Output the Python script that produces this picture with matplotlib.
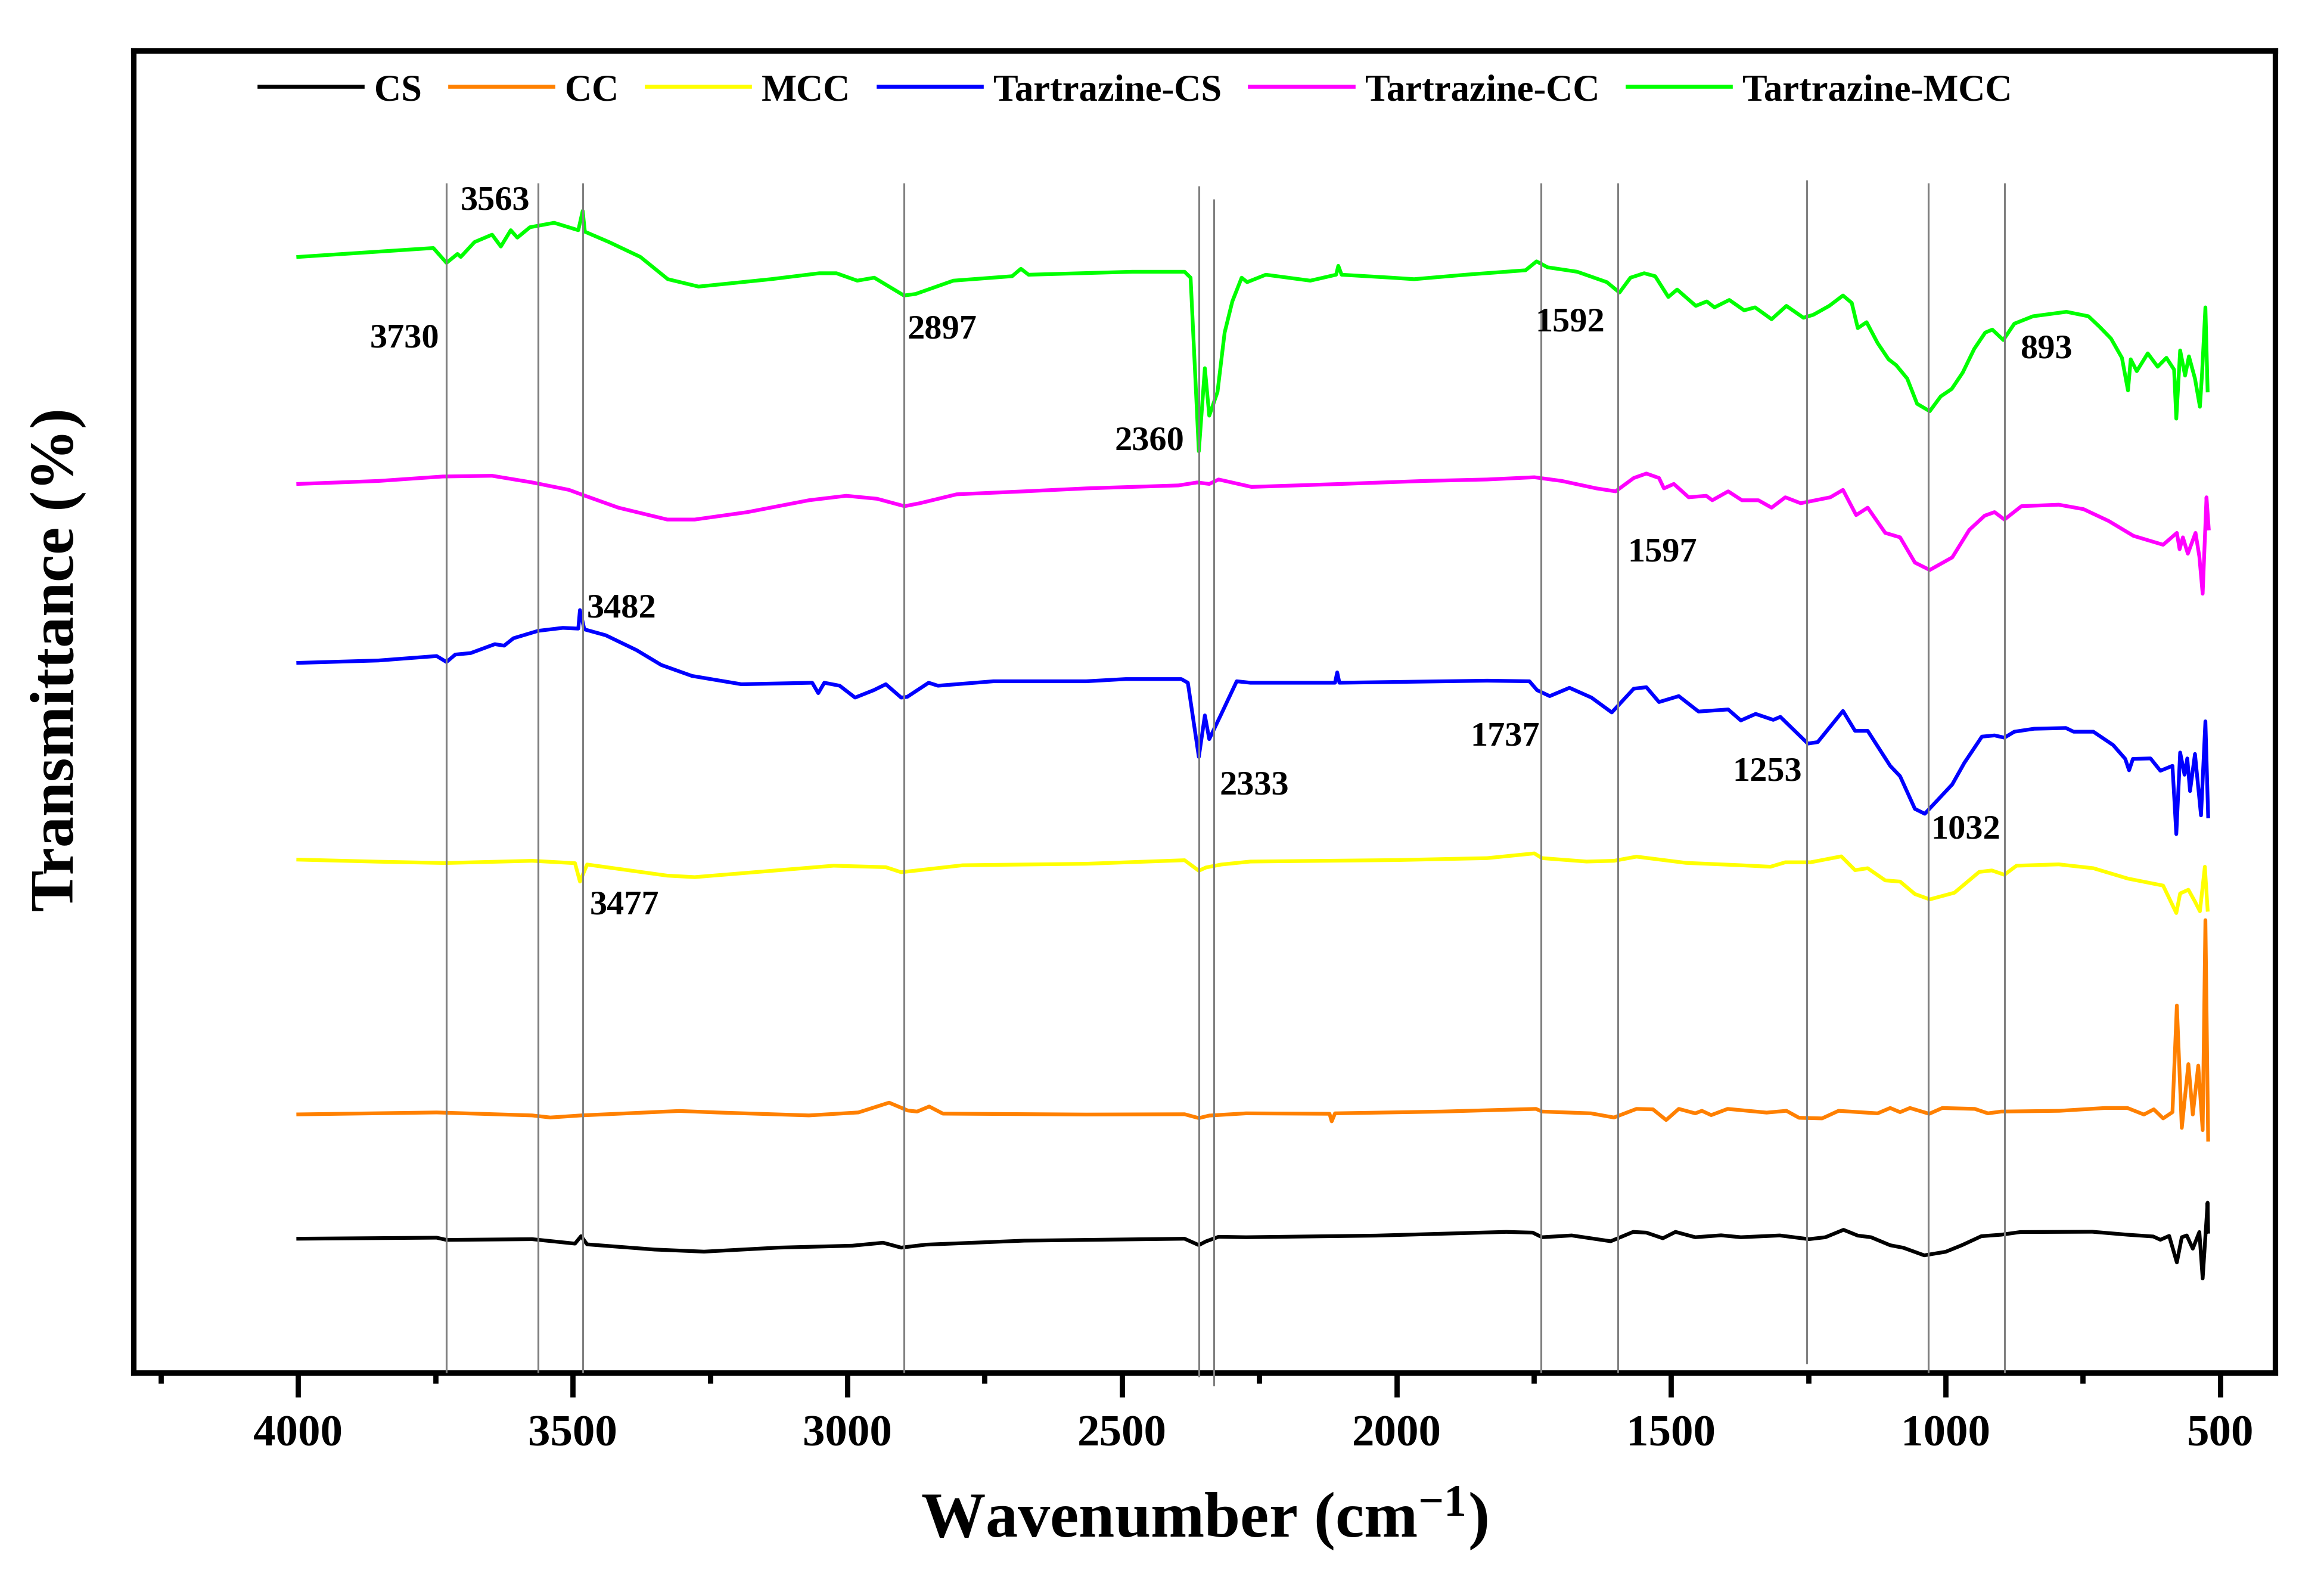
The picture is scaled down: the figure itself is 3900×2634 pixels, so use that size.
import matplotlib
matplotlib.use("Agg")
import matplotlib.pyplot as plt

plt.rcParams['font.family'] = ['Liberation Serif', 'DejaVu Serif']
plt.rcParams['font.weight'] = 'bold'
plt.rcParams['mathtext.fontset'] = 'custom'
plt.rcParams['mathtext.rm'] = 'Liberation Serif:bold'
plt.rcParams['mathtext.it'] = 'Liberation Serif:bold'
plt.rcParams['mathtext.bf'] = 'Liberation Serif:bold'

# ---------------- data (wavenumber, transmittance, arbitrary offset units) -------------
series_labels = ["CS", "CC", "MCC", "Tartrazine-CS", "Tartrazine-CC", "Tartrazine-MCC"]
series_colors = ["#000000", "#FF8000", "#FFFF00", "#0000FF", "#FF00FF", "#00FF00"]

cs_w = [4000, 3748, 3730, 3574, 3496, 3485, 3474, 3351, 3261, 3126, 2991, 2935, 2902, 2857,
        2678, 2386, 2360, 2347, 2324, 2274, 2037, 1800, 1752, 1735, 1681, 1610, 1569, 1545,
        1515, 1492, 1456, 1409, 1373, 1302, 1249, 1219, 1186, 1160, 1136, 1101, 1077, 1039,
        1000, 970, 935, 899, 864, 733, 669, 622, 609, 593, 579, 570, 561, 550, 538, 532, 523, 522]
cs_t = [90.3, 91, 89.5, 90, 87, 92, 86.5, 83, 81.6, 84.3, 85.6, 87.6, 84.3, 86.3,
        89, 90.3, 86, 88.5, 91.6, 91.3, 92.4, 94.9, 94.4, 91.3, 92.5, 88.6, 94.9, 94.4,
        90.6, 94.9, 91.3, 92.6, 91.3, 92.5, 90, 91.3, 96.3, 92.4, 91.3, 85.9, 84.2, 79.1,
        81.5, 86, 92, 93, 94.8, 95, 93, 91.8, 89.6, 92.2, 74.3, 91.3, 92.5, 83.6, 94.8, 63.5, 114.6, 95]

cc_w = [4000, 3748, 3574, 3541, 3485, 3306, 3238, 3070, 2980, 2924, 2890, 2873, 2851, 2826,
        2565, 2386, 2360, 2341, 2274, 2122, 2118, 2112, 1918, 1746, 1735, 1646, 1604, 1563,
        1533, 1509, 1486, 1456, 1444, 1427, 1397, 1326, 1290, 1267, 1225, 1195, 1124, 1101,
        1083, 1065, 1030, 1006, 947, 923, 899, 793, 710, 669, 639, 621, 604, 587, 579, 570,
        558, 550, 540, 532, 527, 522]
cc_t = [174.1, 175.4, 173.4, 172, 173.4, 176.4, 175.4, 173.4, 175.4, 182, 176.7, 176, 179.4, 174.6,
        174, 174.2, 171.6, 173.3, 174.8, 174.5, 169.4, 174.8, 176, 177.8, 176, 174.8, 172, 177.8,
        177.5, 170.3, 177.8, 174.8, 176.5, 173.6, 177.8, 175.3, 176.5, 171.8, 171.4, 176.5, 174.8, 178.4,
        175.6, 178.4, 174.5, 178.4, 177.8, 174.8, 176, 176.5, 178.4, 178.4, 174, 177.5, 171.4, 175.6, 247.5, 165,
        208, 174, 207, 163.5, 305, 157]

mcc_w = [4000, 3854, 3733, 3574, 3496, 3487, 3474, 3328, 3278, 3025, 2930, 2902, 2790, 2565,
         2386, 2360, 2347, 2319, 2266, 2000, 1835, 1749, 1735, 1654, 1604, 1563, 1473, 1373,
         1319, 1292, 1246, 1190, 1165, 1142, 1110, 1083, 1056, 1029, 984, 939, 916, 893, 871,
         794, 731, 668, 604, 580, 573, 558, 546, 537, 528, 523]
mcc_t = [345.8, 344.4, 343.5, 345, 343.4, 331, 342.5, 335, 334, 341.7, 340.7, 337.3, 342, 343,
         345.4, 338.3, 340.5, 342.5, 344.5, 345.5, 346.8, 350, 346.8, 344.5, 345, 347.8, 343.6, 342,
         341, 344, 344, 348, 338.7, 340, 331.8, 331, 322.6, 319, 323.5, 337.5, 338.5, 335.6, 341.7,
         342.6, 340, 333, 328.3, 309.8, 323, 325.5, 317.5, 311, 341, 312]

tcs_w = [4000, 3854, 3748, 3730, 3714, 3686, 3642, 3625, 3608, 3563, 3518, 3490, 3487, 3479,
         3440, 3384, 3339, 3283, 3193, 3064, 3053, 3042, 3014, 2986, 2952, 2930, 2902, 2891,
         2852, 2835, 2734, 2565, 2493, 2392, 2380, 2360, 2349, 2341, 2319, 2291, 2266, 2112,
         2108, 2104, 1835, 1758, 1744, 1721, 1685, 1645, 1608, 1568, 1545, 1522, 1486, 1450,
         1396, 1373, 1346, 1314, 1301, 1251, 1233, 1187, 1165, 1142, 1101, 1083, 1056, 1038,
         988, 966, 934, 911, 893, 875, 839, 781, 767, 731, 695, 673, 666, 659, 627, 609, 587,
         580, 573, 565, 560, 555, 546, 535, 527, 522]
tcs_t = [478.4, 480, 483, 479, 484, 485, 491, 490, 495, 500, 502, 501.5, 514, 501,
         497, 487, 477, 469.6, 464, 465, 458, 465, 463, 455, 460, 464, 455, 455.5,
         465, 463, 466, 466, 467.5, 467.5, 465, 415, 443, 427, 444, 466, 465, 465,
         472, 465, 466.4, 466, 460, 456, 461.6, 455, 445, 461, 462, 452, 456, 445.6,
         447, 439.6, 444, 440, 442, 424, 425, 446, 432.6, 432.6, 409, 402, 380, 376.7,
         396.5, 411, 428.7, 429.5, 428, 432, 434, 434.5, 432, 432, 423, 413.7, 406, 413.7, 414, 405.7, 409,
         363, 418, 403, 414, 392, 417, 375.6, 439, 375]

tcc_w = [4000, 3854, 3737, 3647, 3574, 3507, 3485, 3417, 3328, 3278, 3182, 3070, 3002, 2946,
         2896, 2868, 2801, 2678, 2565, 2397, 2363, 2341, 2324, 2264, 2100, 1950, 1835, 1749,
         1699, 1636, 1601, 1568, 1545, 1522, 1513, 1495, 1468, 1436, 1425, 1396, 1371, 1341,
         1317, 1292, 1264, 1210, 1187, 1163, 1142, 1110, 1083, 1056, 1029, 988, 957, 929, 911,
         893, 862, 794, 749, 703, 658, 604, 579, 574, 568, 559, 545, 538, 532, 525, 521]
tcc_t = [599, 601, 604, 604.5, 600, 595, 592, 583, 575, 575, 580, 588, 591, 589,
         584, 586, 592, 594, 596, 598, 600, 599, 602, 597, 599, 601, 602, 603.5,
         601, 596, 594, 603, 606, 603, 596, 599, 590, 591, 588, 594, 588, 588,
         583, 590, 586, 590, 595, 578, 583, 566, 563, 546, 541, 549.5, 568, 577.6, 580,
         575, 584, 585, 582, 574, 564, 558, 566, 555, 563, 552, 566, 550, 525, 590, 569]

tmcc_w = [4000, 3754, 3730, 3710, 3704, 3679, 3647, 3631, 3613, 3601, 3578, 3534, 3490, 3482,
          3478, 3434, 3377, 3327, 3271, 3139, 3051, 3020, 2982, 2951, 2897, 2876, 2807, 2700,
          2684, 2670, 2481, 2386, 2375, 2360, 2349, 2341, 2326, 2313, 2299, 2282, 2272, 2238,
          2157, 2110, 2106, 2100, 2009, 1968, 1874, 1765, 1745, 1725, 1671, 1617, 1594, 1574,
          1549, 1529, 1505, 1489, 1455, 1435, 1421, 1394, 1367, 1347, 1317, 1290, 1259, 1241,
          1212, 1187, 1171, 1160, 1144, 1124, 1104, 1090, 1070, 1052, 1029, 1009, 989, 969,
          948, 928, 915, 895, 875, 841, 780, 740, 720, 699, 679, 668, 663, 652, 632, 614, 598,
          584, 580, 573, 564, 557, 546, 537, 533, 527, 523]
tmcc_t = [752, 758, 748, 754, 752, 762, 767, 759, 770, 765, 772, 775, 770, 783,
          769, 762, 752, 737, 732, 737, 741, 741, 736, 738, 726, 727, 736, 739,
          744, 740, 742, 742, 738, 621, 677, 645, 661, 701, 722, 738, 735, 740,
          736, 740, 746, 740, 738, 737, 740, 743, 749, 745, 742, 735, 728, 738,
          741, 739, 725, 730, 719, 722, 718, 723, 716, 718, 710, 719, 711, 713,
          719, 726, 721, 704, 708, 694, 683, 679, 670, 653, 648, 658, 663, 674,
          690, 701, 703, 696, 707, 712, 715, 712, 705, 697, 684, 662, 683, 675, 687, 678, 684,
          676, 643, 689, 672, 685, 670, 651, 674, 718, 662]

# reference (peak) lines: wavenumber, top, bottom
peak_w = [3730, 3563, 3482, 2897, 2360, 2333, 1737, 1597, 1253, 1032, 893]
peak_top = [802, 802, 802, 802, 800, 791, 802, 802, 804, 802, 802]
peak_bottom = [0, 0, 0, 0, -3, -9, 0, 0, 6, 0, 0]

# annotations: text, wavenumber, transmittance (text centre)
ann_text = ["3563", "3730", "2897", "2360", "1592", "893", "1597", "3482", "2333",
            "1737", "1253", "1032", "3477"]
ann_w = [3641, 3806, 2828, 2450, 1684, 817, 1516, 3411, 2259, 1802, 1325, 963, 3406]
ann_t = [790, 697, 703, 628, 708, 690, 553, 515, 396, 429, 405, 366, 315]

major_ticks = [4000, 3500, 3000, 2500, 2000, 1500, 1000, 500]
minor_ticks = [4250, 3750, 3250, 2750, 2250, 1750, 1250, 750]

# ---------------- figure -------------
fig = plt.figure(figsize=(13, 8.7833), dpi=300)
ax = fig.add_axes([0.05744, 0.12562, 0.92154, 0.84174])

all_w = [cs_w, cc_w, mcc_w, tcs_w, tcc_w, tmcc_w]
all_t = [cs_t, cc_t, mcc_t, tcs_t, tcc_t, tmcc_t]
for w, t, lab, col in zip(all_w, all_t, series_labels, series_colors):
    ax.plot(w, t, color=col, lw=1.5, label=lab, zorder=2)

ax.vlines(peak_w, peak_bottom, peak_top, colors="#808080", lw=0.75, zorder=3, clip_on=False)

for s, w, t in zip(ann_text, ann_w, ann_t):
    ax.text(w, t, s, ha="center", va="center", fontsize=14, fontweight="bold", zorder=4)

ax.set_xlim(4300, 400)
ax.set_ylim(0, 891)
ax.set_xticks(major_ticks)
ax.set_xticks(minor_ticks, minor=True)
ax.set_yticks([])
ax.tick_params(axis="x", which="major", direction="out", length=9.8, width=2.1,
               labelsize=18, pad=7)
ax.tick_params(axis="x", which="minor", direction="out", length=4.3, width=2.1)
for lbl in ax.get_xticklabels():
    lbl.set_fontweight("bold")
for sp in ax.spines.values():
    sp.set_linewidth(2.2)

ax.set_xlabel("Wavenumber (cm$^{-1}$)", fontsize=26, fontweight="bold", labelpad=12)
ax.set_ylabel("Transmittance (%)", fontsize=25, fontweight="bold")
ax.yaxis.set_label_coords(-0.022, 0.54)

leg = ax.legend(loc="center left", bbox_to_anchor=(0.0587, 0.9697), ncol=6, frameon=False,
                fontsize=15, handlelength=2.77, handletextpad=0.32, columnspacing=0.75,
                borderaxespad=0, borderpad=0)
for t in leg.get_texts():
    t.set_fontweight("bold")
for l in leg.get_lines():
    l.set_linewidth(1.6)

fig.savefig("out.png", dpi=300)
